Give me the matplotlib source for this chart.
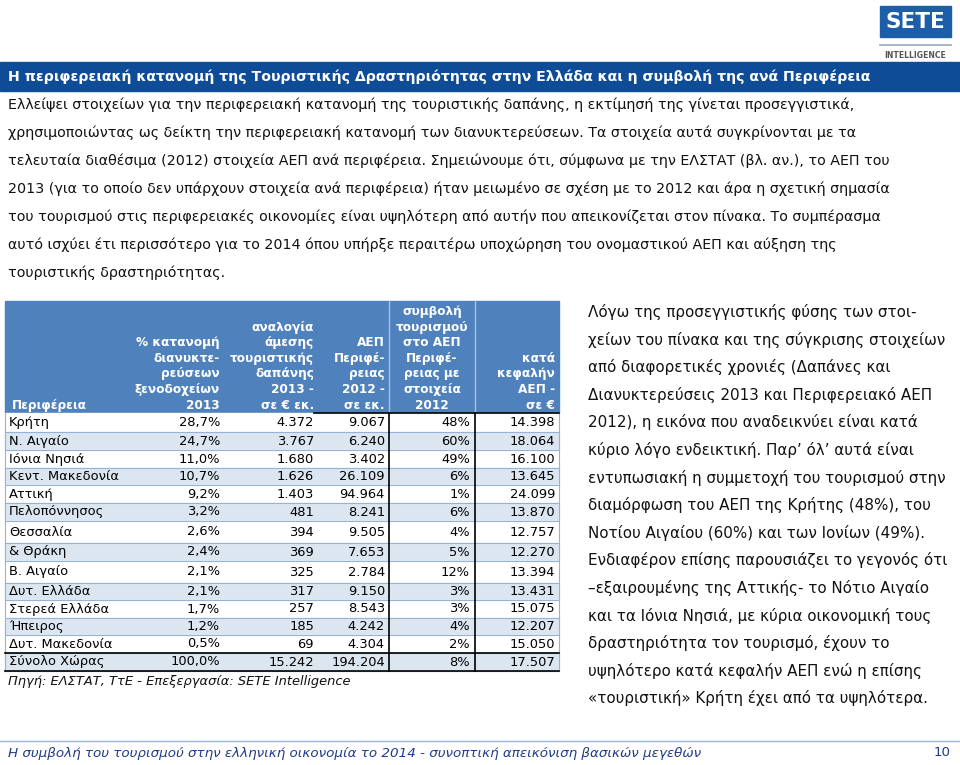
import matplotlib
matplotlib.use("Agg")
import matplotlib.pyplot as plt
from matplotlib.patches import Rectangle

# table data
regions = ["Κρήτη", "Ν. Αιγαίο", "Ιόνια Νησιά", "Κεντ. Μακεδονία", "Αττική",
           "Πελοπόννησος", "Θεσσαλία", "& Θράκη", "Β. Αιγαίο", "Δυτ. Ελλάδα",
           "Στερεά Ελλάδα", "Ήπειρος", "Δυτ. Μακεδονία", "Σύνολο Χώρας"]
nights_pct = [28.7, 24.7, 11.0, 10.7, 9.2, 3.2, 2.6, 2.4, 2.1, 2.1, 1.7, 1.2, 0.5, 100.0]
spend = [4372, 3767, 1680, 1626, 1403, 481, 394, 369, 325, 317, 257, 185, 69, 15242]
gdp = [9067, 6240, 3402, 26109, 94964, 8241, 9505, 7653, 2784, 9150, 8543, 4242, 4304, 194204]
share = [48, 60, 49, 6, 1, 6, 4, 5, 12, 3, 3, 4, 2, 8]
per_capita = [14398, 18064, 16100, 13645, 24099, 13870, 12757, 12270, 13394, 13431,
              15075, 12207, 15050, 17507]

headers = [
    ["Περιφέρεια"],
    ["% κατανομή", "διανυκτε-", "ρεύσεων", "ξενοδοχείων", "2013"],
    ["αναλογία", "άμεσης", "τουριστικής", "δαπάνης", "2013 -", "σε € εκ."],
    ["ΑΕΠ", "Περιφέ-", "ρειας", "2012 -", "σε εκ."],
    ["συμβολή", "τουρισμού", "στο ΑΕΠ", "Περιφέ-", "ρειας με", "στοιχεία", "2012"],
    ["κατά", "κεφαλήν", "ΑΕΠ -", "σε €"],
]

title = ("Η περιφερειακή κατανομή της Τουριστικής Δραστηριότητας στην Ελλάδα "
         "και η συμβολή της ανά Περιφέρεια")
intro = [
    "Ελλείψει στοιχείων για την περιφερειακή κατανομή της τουριστικής δαπάνης, η εκτίμησή της γίνεται προσεγγιστικά,",
    "χρησιμοποιώντας ως δείκτη την περιφερειακή κατανομή των διανυκτερεύσεων. Τα στοιχεία αυτά συγκρίνονται με τα",
    "τελευταία διαθέσιμα (2012) στοιχεία ΑΕΠ ανά περιφέρεια. Σημειώνουμε ότι, σύμφωνα με την ΕΛΣΤΑΤ (βλ. αν.), το ΑΕΠ του",
    "2013 (για το οποίο δεν υπάρχουν στοιχεία ανά περιφέρεια) ήταν μειωμένο σε σχέση με το 2012 και άρα η σχετική σημασία",
    "του τουρισμού στις περιφερειακές οικονομίες είναι υψηλότερη από αυτήν που απεικονίζεται στον πίνακα. Το συμπέρασμα",
    "αυτό ισχύει έτι περισσότερο για το 2014 όπου υπήρξε περαιτέρω υποχώρηση του ονομαστικού ΑΕΠ και αύξηση της",
    "τουριστικής δραστηριότητας.",
]
side = [
    "Λόγω της προσεγγιστικής φύσης των στοι-",
    "χείων του πίνακα και της σύγκρισης στοιχείων",
    "από διαφορετικές χρονιές (Δαπάνες και",
    "Διανυκτερεύσεις 2013 και Περιφερειακό ΑΕΠ",
    "2012), η εικόνα που αναδεικνύει είναι κατά",
    "κύριο λόγο ενδεικτική. Παρ’ όλ’ αυτά είναι",
    "εντυπωσιακή η συμμετοχή του τουρισμού στην",
    "διαμόρφωση του ΑΕΠ της Κρήτης (48%), του",
    "Νοτίου Αιγαίου (60%) και των Ιονίων (49%).",
    "Ενδιαφέρον επίσης παρουσιάζει το γεγονός ότι",
    "–εξαιρουμένης της Αττικής- το Νότιο Αιγαίο",
    "και τα Ιόνια Νησιά, με κύρια οικονομική τους",
    "δραστηριότητα τον τουρισμό, έχουν το",
    "υψηλότερο κατά κεφαλήν ΑΕΠ ενώ η επίσης",
    "«τουριστική» Κρήτη έχει από τα υψηλότερα.",
]
source = "Πηγή: ΕΛΣΤΑΤ, ΤτΕ - Επεξεργασία: SETE Intelligence"
footer = "Η συμβολή του τουρισμού στην ελληνική οικονομία το 2014 - συνοπτική απεικόνιση βασικών μεγεθών"
page = "10"


def thou(v):
    return f"{v:,}".replace(",", ".")


def pct1(v):
    return f"{v:.1f}".replace(".", ",") + "%"


plt.rcParams["font.family"] = ["DejaVu Sans"]
fig = plt.figure(figsize=(9.6, 7.65), dpi=100)
ax = fig.add_axes([0, 0, 1, 1])
ax.set_xlim(0, 960)
ax.set_ylim(765, 0)
ax.axis("off")

# logo
ax.add_patch(Rectangle((880, 6), 71, 31, color="#1c5fa8"))
ax.text(915.5, 22, "SETE", color="white", fontsize=15.5, fontweight="bold", ha="center", va="center")
ax.plot([880, 951], [45, 45], color="#9aa8b8", lw=1.2)
ax.text(915.5, 55.5, "INTELLIGENCE", color="#555555", fontsize=5.6, fontweight="bold", ha="center", va="center")

# title bar
ax.add_patch(Rectangle((0, 62), 960, 29, color="#0f4c97"))
ax.text(8, 77, title, color="white", fontsize=10.2, fontweight="bold", va="center")

for i, line in enumerate(intro):
    ax.text(8, 105 + 27.9 * i, line, fontsize=10.3, color="#111111", va="center")

for i, line in enumerate(side):
    ax.text(588, 312 + 27.6 * i, line, fontsize=10.9, color="#111111", va="center")

# table layout
left, right = 5, 559
head_top, head_bot = 301, 413
row_edges = [413, 432, 450, 468, 485, 503, 521, 543, 561, 583, 600, 618, 635, 653, 671]
col_right = [None, 220, 314, 385, 470, 555]
sep4, sep5 = 389, 475

ax.add_patch(Rectangle((left, head_top), right - left, head_bot - head_top, color="#4f81bd"))
for x in (sep4, sep5):
    ax.plot([x, x], [head_top, head_bot], color="#a9c1e0", lw=1)

for c, lines in enumerate(headers):
    n = len(lines)
    for k, txt in enumerate(lines):
        y = 405 - 15.6 * (n - 1 - k)
        if c == 0:
            ax.text(12, y, txt, color="white", fontsize=8.7, fontweight="bold", va="center")
        elif c == 4:
            ax.text((sep4 + sep5) / 2, y, txt, color="white", fontsize=8.7, fontweight="bold",
                    va="center", ha="center")
        else:
            ax.text(col_right[c], y, txt, color="white", fontsize=8.7, fontweight="bold",
                    va="center", ha="right")

for r in range(len(regions)):
    top, bot = row_edges[r], row_edges[r + 1]
    bg = "#dce6f1" if r % 2 == 1 else "white"
    ax.add_patch(Rectangle((left, top), right - left, bot - top, color=bg))
    ax.plot([left, right], [bot, bot], color="#95b3d7", lw=0.8)
    yc = (top + bot) / 2
    cells = [pct1(nights_pct[r]), thou(spend[r]), thou(gdp[r]), f"{share[r]}%", thou(per_capita[r])]
    ax.text(9, yc, regions[r], fontsize=9.4, color="black", va="center")
    for c, txt in enumerate(cells, start=1):
        ax.text(col_right[c], yc, txt, fontsize=9.4, color="black", va="center", ha="right")

tab_bot = row_edges[-1]
ax.plot([left, left], [head_bot, tab_bot], color="#95b3d7", lw=0.8)
ax.plot([right, right], [head_bot, tab_bot], color="#95b3d7", lw=0.8)
ax.plot([314, right], [head_bot, head_bot], color="black", lw=1.2)
for x in (sep4, sep5):
    ax.plot([x, x], [head_bot, tab_bot], color="black", lw=1.2)
ax.plot([left, right], [row_edges[-2], row_edges[-2]], color="black", lw=1.2)
ax.plot([left, right], [tab_bot, tab_bot], color="black", lw=1.2)

ax.text(8, 681, source, fontsize=9.4, style="italic", color="#111111", va="center")

# footer
ax.plot([0, 960], [741, 741], color="#9fb4d4", lw=1)
ax.text(8, 753, footer, fontsize=9.7, style="italic", color="#1f3c88", va="center")
ax.text(951, 753, page, fontsize=9.6, color="#1f3c88", va="center", ha="right")

fig.savefig("out.png", dpi=100)
